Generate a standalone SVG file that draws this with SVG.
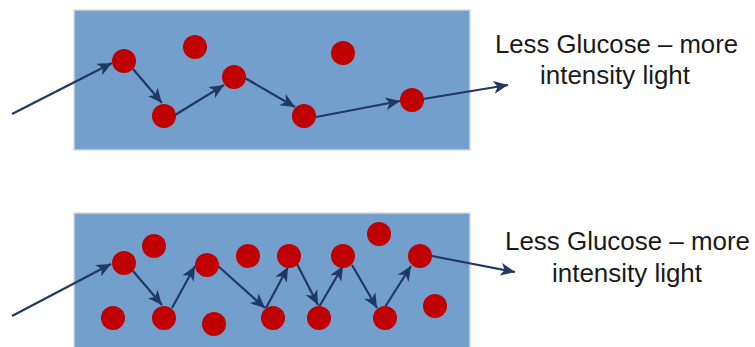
<svg xmlns="http://www.w3.org/2000/svg" width="755" height="347" viewBox="0 0 755 347">
<defs>
<style>
.box{fill:#739FCC;stroke:#D9D9D9;stroke-width:1.5}
.p{fill:#C00000}
.c{stroke:#203864;stroke-width:2.2;fill:none;marker-end:url(#ah)}
.t{font-family:"Liberation Sans",Arial,sans-serif;font-size:25px;fill:#1a1a1a}
</style>
<marker id="ah" markerUnits="userSpaceOnUse" markerWidth="16" markerHeight="13" refX="14.5" refY="6.5" orient="auto">
<path d="M0,0 L14.5,6.5 L0,13 L4,6.5 z" fill="#203864"/>
</marker>
</defs>
<rect id="box-top" class="box" x="74" y="10" width="396" height="140"/>
<rect id="box-bottom" class="box" x="74" y="213" width="396" height="140"/>
<g id="connectors">
<line class="c" x1="12" y1="114" x2="112" y2="63"/>
<line class="c" x1="133" y1="69" x2="162" y2="103"/>
<line class="c" x1="175" y1="115" x2="224" y2="85"/>
<line class="c" x1="245" y1="78" x2="295" y2="107"/>
<line class="c" x1="316" y1="117" x2="400" y2="101"/>
<line class="c" x1="423" y1="99" x2="508" y2="85"/>
<line class="c" x1="12" y1="316" x2="111" y2="264"/>
<line class="c" x1="133" y1="271" x2="162" y2="305"/>
<line class="c" x1="172" y1="308" x2="195" y2="266"/>
<line class="c" x1="218" y1="266" x2="265" y2="308"/>
<line class="c" x1="266" y1="308" x2="288" y2="267"/>
<line class="c" x1="297" y1="264" x2="318" y2="305"/>
<line class="c" x1="319" y1="307" x2="343" y2="266"/>
<line class="c" x1="352" y1="265" x2="377" y2="308"/>
<line class="c" x1="385" y1="307" x2="411" y2="266"/>
<line class="c" x1="432" y1="256" x2="515" y2="272"/>
</g>
<g id="particles-top">
<circle class="p" cx="124" cy="61" r="12"/>
<circle class="p" cx="195" cy="47" r="12"/>
<circle class="p" cx="164" cy="116" r="12"/>
<circle class="p" cx="234" cy="77" r="12"/>
<circle class="p" cx="343" cy="53" r="12"/>
<circle class="p" cx="304" cy="116" r="12"/>
<circle class="p" cx="412" cy="100" r="12"/>
</g>
<g id="particles-bottom">
<circle class="p" cx="124" cy="263" r="12"/>
<circle class="p" cx="154" cy="246" r="12"/>
<circle class="p" cx="113" cy="318" r="12"/>
<circle class="p" cx="164" cy="318" r="12"/>
<circle class="p" cx="207" cy="265" r="12"/>
<circle class="p" cx="214" cy="324" r="12"/>
<circle class="p" cx="248" cy="256" r="12"/>
<circle class="p" cx="273" cy="318" r="12"/>
<circle class="p" cx="289" cy="256" r="12"/>
<circle class="p" cx="319" cy="318" r="12"/>
<circle class="p" cx="343" cy="256" r="12"/>
<circle class="p" cx="379" cy="234" r="12"/>
<circle class="p" cx="385" cy="318" r="12"/>
<circle class="p" cx="420" cy="256" r="12"/>
<circle class="p" cx="435" cy="306" r="12"/>
</g>
<g id="label-top">
<text class="t" x="495" y="53" textLength="243" lengthAdjust="spacingAndGlyphs">Less Glucose – more</text>
<text class="t" x="540" y="84" textLength="150" lengthAdjust="spacingAndGlyphs">intensity light</text>
</g>
<g id="label-bottom">
<text class="t" x="505" y="250" textLength="245" lengthAdjust="spacingAndGlyphs">Less Glucose – more</text>
<text class="t" x="552" y="282" textLength="150" lengthAdjust="spacingAndGlyphs">intensity light</text>
</g>
</svg>
